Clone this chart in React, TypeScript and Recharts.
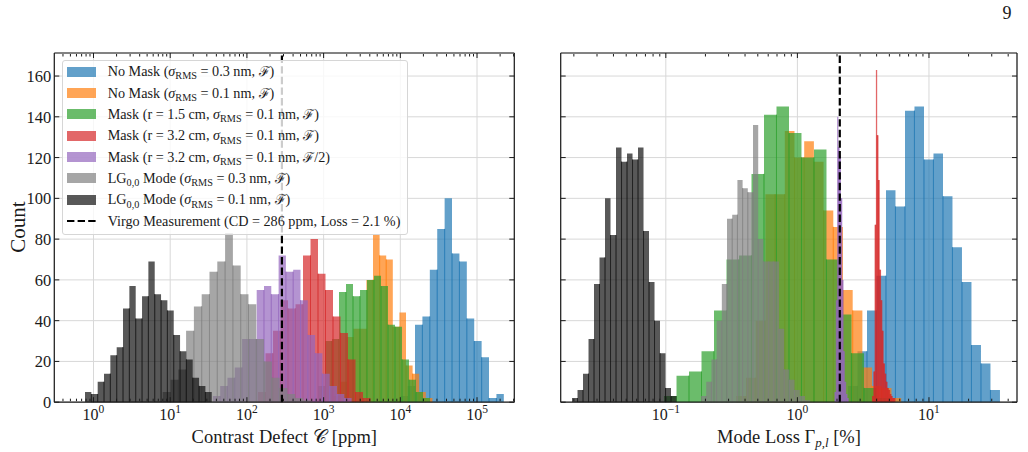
import React from 'react';
import { ComposedChart, Area, XAxis, YAxis, CartesianGrid, ReferenceLine } from 'recharts';

const SERIF = '"Liberation Serif", "Times New Roman", "DejaVu Serif", serif';
const INK = '#1a1a1a';
const GRID = '#d8d8d8';

// ---- axes ----
const Y_MAX = 171.3;
const Y_TICKS = [0, 20, 40, 60, 80, 100, 120, 140, 160];

const CD_DOMAIN: [number, number] = [0.3083, 306200]; // contrast defect [ppm]
const CD_DECADES = [1, 10, 100, 1000, 10000, 100000];
const ML_DOMAIN: [number, number] = [0.01589, 46.67]; // mode loss [%]
const ML_DECADES = [0.1, 1, 10];

// Virgo measurement
const VIRGO_CD = 286;
const VIRGO_LOSS = 2.1;

// ---- histogram colours (drawn at alpha 0.7) ----
const BLUE = '#1f77b4';
const ORANGE = '#ff7f0e';
const GREEN = '#2ca02c';
const RED = '#d62728';
const PURPLE = '#9467bd';
const LGRAY = '#808080';
const DGRAY = '#111111';

// ---- contrast defect histograms: outer bin edges [ppm] and counts per log bin ----
const cdNoMask03Edges = [9970, 223600];
const cdNoMask03Counts = [3, 8, 38, 42, 65, 85, 100, 73, 69, 41, 30, 22, 2, 4];
const cdNoMask01Edges = [1342, 26210];
const cdNoMask01Counts = [3, 10, 32, 36, 36, 60, 82, 72, 70, 37, 44, 18, 14, 5, 2];
const cdMask15Edges = [845, 24380];
const cdMask15Counts = [8, 30, 31, 54, 58, 52, 55, 60, 62, 57, 38, 37, 21, 11, 5, 2];
const cdMask32Edges = [139.5, 4088];
const cdMask32Counts = [5, 24, 35, 50, 46, 48, 72, 80, 63, 55, 42, 34, 21, 5, 2];
const cdMask32HalfEdges = [36.0, 2318];
const cdMask32HalfCounts = [3, 8, 12, 17, 31, 31, 55, 57, 53, 72, 64, 65, 50, 33, 24, 14, 8, 4, 2];
const cdLG03Edges = [7.98, 683];
const cdLG03Counts = [5, 11, 16, 35, 47, 53, 64, 69, 83, 67, 53, 48, 31, 20, 12, 7, 4, 2, 1];
const cdLG01Edges = [0.775, 34.8];
const cdLG01Counts = [5, 4, 10, 14, 23, 27, 46, 57, 41, 52, 69, 53, 50, 45, 33, 25, 21, 12, 8, 5];

// ---- mode loss histograms: outer bin edges [%] and counts per log bin ----
const mlNoMask03Edges = [2.424, 34.64];
const mlNoMask03Counts = [8, 25, 45, 62, 104, 96, 143, 145, 119, 122, 101, 76, 59, 28, 19, 6];
const mlNoMask01Edges = [0.3433, 6.15];
const mlNoMask01Counts = [3, 12, 40, 102, 102, 133, 120, 128, 118, 94, 86, 55, 45, 17, 8, 7, 2];
const mlMask15Edges = [0.0969, 4.966];
const mlMask15Counts = [3, 13, 15, 25, 45, 70, 72, 112, 141, 145, 132, 120, 124, 70, 43, 24, 7, 2];
const mlMask32Edges = [3.689, 5.555];
const mlMask32Counts = [3, 15, 87, 163, 131, 109, 65, 50, 35, 19, 14, 10, 7, 6, 4, 3, 2, 2];
const mlMask32HalfEdges = [1.914, 2.458];
const mlMask32HalfCounts = [5, 50, 140, 125, 121, 100, 60, 25, 10, 4, 2];
const mlLG03Edges = [0.1852, 1.251];
const mlLG03Counts = [3, 10, 21, 40, 58, 90, 92, 109, 105, 103, 136, 80, 69, 69, 69, 36, 16, 11, 6, 3, 1];
const mlLG01Edges = [0.01937, 0.1206];
const mlLG01Counts = [2, 6, 14, 31, 58, 71, 100, 82, 125, 118, 122, 119, 125, 84, 59, 40, 24, 7, 3];

type Pt = { x: number; y: number };

function binEdges(edges: number[], n: number): number[] {
  const [lo, hi] = edges;
  const ratio = Math.pow(hi / lo, 1 / n);
  return Array.from({ length: n + 1 }, (_, i) => (i === n ? hi : lo * Math.pow(ratio, i)));
}

// step outline of the bars; the closing point drops back to zero
function histogram(edges: number[], counts: number[]): Pt[] {
  const e = binEdges(edges, counts.length);
  const pts = counts.map((c, i) => ({ x: e[i], y: c }));
  pts.push({ x: e[counts.length], y: 0 });
  return pts;
}

// shared edges between neighbouring bars, up to the lower of the two bars
function seams(edges: number[], counts: number[]): Pt[] {
  const e = binEdges(edges, counts.length);
  const pts: Pt[] = [];
  for (let i = 1; i < counts.length; i++) {
    const h = Math.min(counts[i - 1], counts[i]);
    pts.push({ x: e[i], y: 0 }, { x: e[i], y: h }, { x: e[i], y: 0 });
  }
  return pts;
}

function minorTicks([lo, hi]: [number, number]): number[] {
  const out: number[] = [];
  for (let e = Math.floor(Math.log10(lo)); e <= Math.ceil(Math.log10(hi)); e++) {
    for (let m = 2; m <= 9; m++) {
      const v = m * Math.pow(10, e);
      if (v > lo && v < hi) out.push(v);
    }
  }
  return out;
}

function series(key: string, color: string, edges: number[], counts: number[]) {
  return { key, color, data: histogram(edges, counts), seams: seams(edges, counts) };
}

const CD_SERIES = [
  series('nm03', BLUE, cdNoMask03Edges, cdNoMask03Counts),
  series('nm01', ORANGE, cdNoMask01Edges, cdNoMask01Counts),
  series('m15', GREEN, cdMask15Edges, cdMask15Counts),
  series('m32', RED, cdMask32Edges, cdMask32Counts),
  series('m32h', PURPLE, cdMask32HalfEdges, cdMask32HalfCounts),
  series('lg03', LGRAY, cdLG03Edges, cdLG03Counts),
  series('lg01', DGRAY, cdLG01Edges, cdLG01Counts),
];

const ML_SERIES = [
  series('nm03', BLUE, mlNoMask03Edges, mlNoMask03Counts),
  series('nm01', ORANGE, mlNoMask01Edges, mlNoMask01Counts),
  series('m15', GREEN, mlMask15Edges, mlMask15Counts),
  series('m32', RED, mlMask32Edges, mlMask32Counts),
  series('m32h', PURPLE, mlMask32HalfEdges, mlMask32HalfCounts),
  series('lg03', LGRAY, mlLG03Edges, mlLG03Counts),
  series('lg01', DGRAY, mlLG01Edges, mlLG01Counts),
];

const Sub = ({ children }: { children: React.ReactNode }) => (
  <span style={{ fontSize: '0.72em', position: 'relative', top: '0.3em' }}>{children}</span>
);
const Sig = () => <i>σ</i>;
const CalF = () => <span style={{ fontFamily: '"DejaVu Serif", serif', fontSize: '0.95em' }}>ℱ</span>;

const LEGEND = [
  { color: BLUE, label: <>No Mask (<Sig /><Sub>RMS</Sub> = 0.3 nm, <CalF />)</> },
  { color: ORANGE, label: <>No Mask (<Sig /><Sub>RMS</Sub> = 0.1 nm, <CalF />)</> },
  { color: GREEN, label: <>Mask (r = 1.5 cm, <Sig /><Sub>RMS</Sub> = 0.1 nm, <CalF />)</> },
  { color: RED, label: <>Mask (r = 3.2 cm, <Sig /><Sub>RMS</Sub> = 0.1 nm, <CalF />)</> },
  { color: PURPLE, label: <>Mask (r = 3.2 cm, <Sig /><Sub>RMS</Sub> = 0.1 nm, <CalF />/2)</> },
  { color: LGRAY, label: <>LG<Sub>0,0</Sub> Mode (<Sig /><Sub>RMS</Sub> = 0.3 nm, <CalF />)</> },
  { color: DGRAY, label: <>LG<Sub>0,0</Sub> Mode (<Sig /><Sub>RMS</Sub> = 0.1 nm, <CalF />)</> },
  { color: null, label: <>Virgo Measurement (CD = 286 ppm, Loss = 2.1 %)</> },
];

function DecadeTick(props: any) {
  const { x, y, payload } = props;
  const e = Math.round(Math.log10(payload.value));
  return (
    <text x={x} y={y + 18} textAnchor="middle" fontFamily={SERIF} fontSize={16} fill={INK}>
      10
      <tspan dy={-7} fontSize={11.5}>{e < 0 ? `\u2212${-e}` : `${e}`}</tspan>
    </text>
  );
}

function CountTick(props: any) {
  const { x, y, payload } = props;
  return (
    <text x={x - 3} y={y} dy="0.36em" textAnchor="end" fontFamily={SERIF} fontSize={16.5} fill={INK}>
      {payload.value}
    </text>
  );
}

const noLabel = () => <g />;
const SPINE = { stroke: INK, strokeWidth: 1.2 };
const TICKLINE = { stroke: INK, strokeWidth: 1 };

type PanelProps = {
  left: number;
  width: number;
  margin: { top: number; right: number; bottom: number; left: number };
  domain: [number, number];
  decades: number[];
  items: { key: string; color: string; data: Pt[]; seams: Pt[] }[];
  virgo: number;
  labelledY: boolean;
};

function Panel({ left, width, margin, domain, decades, items, virgo, labelledY }: PanelProps) {
  const minor = minorTicks(domain);
  const xCommon = {
    type: 'number' as const,
    dataKey: 'x',
    scale: 'log' as const,
    domain,
    allowDataOverflow: true,
    interval: 0 as const,
  };
  const yCommon = {
    type: 'number' as const,
    domain: [0, Y_MAX] as [number, number],
    allowDataOverflow: true,
    ticks: Y_TICKS,
    interval: 0 as const,
  };
  return (
    <div style={{ position: 'absolute', left, top: 0 }}>
      <ComposedChart width={width} height={452} margin={margin}>
        <CartesianGrid xAxisId="x" yAxisId="y" stroke={GRID} strokeWidth={1} />
        <XAxis
          {...xCommon}
          xAxisId="x"
          ticks={decades}
          height={30}
          tickSize={0}
          tickMargin={0}
          tickLine={false}
          axisLine={SPINE}
          tick={DecadeTick}
        />
        <XAxis {...xCommon} xAxisId="xb1" orientation="bottom" mirror height={1} ticks={decades} tickSize={5} tickLine={TICKLINE} axisLine={false} tick={noLabel} />
        <XAxis {...xCommon} xAxisId="xb2" orientation="bottom" mirror height={1} ticks={minor} tickSize={2.5} tickLine={TICKLINE} axisLine={false} tick={noLabel} />
        <XAxis {...xCommon} xAxisId="xt1" orientation="top" mirror height={1} ticks={decades} tickSize={5} tickLine={TICKLINE} axisLine={SPINE} tick={noLabel} />
        <XAxis {...xCommon} xAxisId="xt2" orientation="top" mirror height={1} ticks={minor} tickSize={2.5} tickLine={TICKLINE} axisLine={false} tick={noLabel} />
        {labelledY ? (
          <YAxis {...yCommon} yAxisId="y" width={46} tickSize={0} tickMargin={0} tickLine={false} axisLine={SPINE} tick={CountTick} />
        ) : (
          <YAxis {...yCommon} yAxisId="y" mirror width={1} tickSize={5} tickLine={TICKLINE} axisLine={SPINE} tick={noLabel} />
        )}
        {labelledY && (
          <YAxis {...yCommon} yAxisId="yl" mirror width={1} tickSize={5} tickLine={TICKLINE} axisLine={false} tick={noLabel} />
        )}
        <YAxis {...yCommon} yAxisId="yr" orientation="right" mirror width={1} tickSize={5} tickLine={TICKLINE} axisLine={SPINE} tick={noLabel} />
        {items.flatMap((s) => [
          <Area
            key={`${s.key}-bars`}
            xAxisId="x"
            yAxisId="y"
            data={s.data}
            dataKey="y"
            type="stepAfter"
            baseValue={0}
            fill={s.color}
            fillOpacity={0.7}
            stroke="none"
            dot={false}
            activeDot={false}
            isAnimationActive={false}
          />,
          <Area
            key={`${s.key}-edges`}
            xAxisId="x"
            yAxisId="y"
            data={s.seams}
            dataKey="y"
            type="linear"
            baseValue={0}
            fill="none"
            stroke={s.color}
            strokeOpacity={0.5}
            strokeWidth={1}
            dot={false}
            activeDot={false}
            isAnimationActive={false}
          />,
        ])}
        <ReferenceLine xAxisId="x" yAxisId="y" x={virgo} stroke="#000" strokeWidth={2.2} strokeDasharray="7.4 3.2" />
      </ComposedChart>
    </div>
  );
}

function Legend() {
  return (
    <div
      style={{
        position: 'absolute',
        left: 62,
        top: 60,
        width: 345.5,
        height: 174.5,
        boxSizing: 'border-box',
        border: '1px solid #d6d6d6',
        borderRadius: 3,
        background: 'rgba(255,255,255,0.8)',
        fontFamily: SERIF,
        fontSize: 14.2,
        color: INK,
      }}
    >
      {LEGEND.map((row, i) => (
        <div key={i} style={{ height: 21.35, display: 'flex', alignItems: 'center', whiteSpace: 'nowrap', lineHeight: 1 }}>
          {row.color ? (
            <div style={{ marginLeft: 4.3, width: 28.7, height: 10, background: row.color, opacity: 0.7, flex: 'none' }} />
          ) : (
            <svg width={28.7} height={10} style={{ marginLeft: 4.3, flex: 'none' }}>
              <line x1={0} y1={5} x2={28.7} y2={5} stroke="#000" strokeWidth={2.2} strokeDasharray="7.4 3.2" />
            </svg>
          )}
          <span style={{ marginLeft: 11.7 }}>{row.label}</span>
        </div>
      ))}
    </div>
  );
}

export default function App() {
  return (
    <div style={{ position: 'absolute', left: 0, top: 0, width: 1028, height: 452, background: '#fff', overflow: 'hidden' }}>
      <Panel
        left={0}
        width={530}
        margin={{ top: 53, right: 15.7, bottom: 19.8, left: 8.3 }}
        domain={CD_DOMAIN}
        decades={CD_DECADES}
        items={CD_SERIES}
        virgo={VIRGO_CD}
        labelledY
      />
      <Panel
        left={530}
        width={498}
        margin={{ top: 53, right: 11, bottom: 19.8, left: 30.7 }}
        domain={ML_DOMAIN}
        decades={ML_DECADES}
        items={ML_SERIES}
        virgo={VIRGO_LOSS}
        labelledY={false}
      />
      <Legend />
      <svg width={1028} height={452} style={{ position: 'absolute', left: 0, top: 0, pointerEvents: 'none' }}>
        <g fontFamily={SERIF} fill={INK}>
          <text x={18} y={227} transform="rotate(-90 18 227)" textAnchor="middle" dy="0.35em" fontSize={21}>
            Count
          </text>
          <text x={284.3} y={443} textAnchor="middle" fontSize={18.5}>
            Contrast Defect 𝒞<tspan dx={5}>[ppm]</tspan>
          </text>
          <text x={789} y={443} textAnchor="middle" fontSize={18.5}>
            Mode Loss Γ<tspan fontStyle="italic" fontSize={13} dy={4}>p,l</tspan>
            <tspan dy={-4}> [%]</tspan>
          </text>
          <text x={1007} y={19} textAnchor="middle" fontSize={18}>
            9
          </text>
        </g>
      </svg>
    </div>
  );
}
